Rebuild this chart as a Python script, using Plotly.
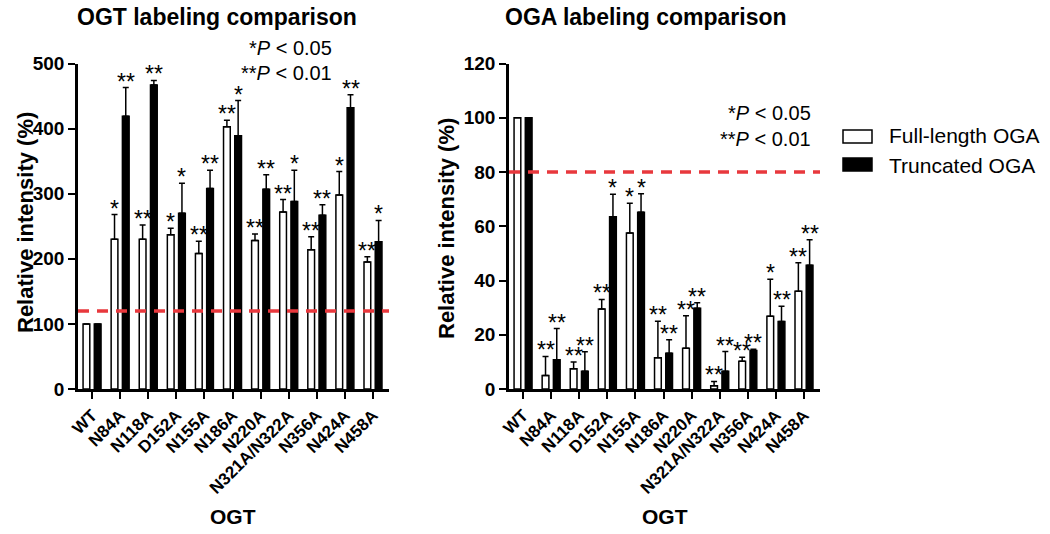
import plotly.graph_objects as go

cats = ["WT", "N84A", "N118A", "D152A", "N155A", "N186A", "N220A", "N321A/N322A", "N356A", "N424A", "N458A"]

# OGT panel: bar value and top of the error bar
ogt_full = [100, 230, 230, 237, 208, 403, 228, 272, 214, 298, 195]
ogt_full_top = [100, 268, 252, 247, 227, 413, 238, 291, 234, 334, 203]
ogt_full_sig = ["", "*", "**", "*", "**", "**", "**", "**", "**", "*", "**"]
ogt_trunc = [100, 419, 467, 270, 308, 389, 307, 288, 267, 432, 226]
ogt_trunc_top = [100, 463, 474, 316, 336, 443, 329, 336, 283, 452, 259]
ogt_trunc_sig = ["", "**", "**", "*", "**", "*", "**", "*", "**", "**", "*"]

# OGA panel
oga_full = [100, 5, 7.5, 29.5, 57.5, 11.5, 15, 1.2, 10.2, 26.8, 36]
oga_full_top = [100, 12, 10, 33, 68.5, 25, 27, 2.8, 11.7, 40.5, 46.5]
oga_full_sig = ["", "**", "**", "**", "*", "**", "**", "**", "**", "*", "**"]
oga_trunc = [100, 10.8, 6.5, 63.5, 65.2, 13.2, 29.8, 6.5, 14.2, 24.9, 45.6]
oga_trunc_top = [100, 22.3, 13.7, 71.8, 72, 18.2, 31.8, 13.8, 14.7, 30.5, 55]
oga_trunc_sig = ["", "**", "**", "*", "*", "**", "**", "**", "**", "**", "**"]

W, H = 1050, 534
FONT = "Arial, Liberation Sans, sans-serif"
RED = "#e8383d"


def px(x):
    return x / W


def py(y):
    return 1 - y / H


fig = go.Figure()
idx = list(range(len(cats)))


def add_panel(xa, ya, full, full_top, full_sig, trunc, trunc_top, trunc_sig):
    for off, vals, tops, sig, fill in [(-0.2, full, full_top, full_sig, "white"),
                                       (0.2, trunc, trunc_top, trunc_sig, "black")]:
        xs = [i + off for i in idx]
        fig.add_trace(go.Bar(
            x=xs, y=vals, width=0.24, xaxis=xa, yaxis=ya, showlegend=False,
            marker=dict(color=fill, line=dict(color="black", width=1.5)),
            error_y=dict(type="data", symmetric=False,
                         array=[t - v for t, v in zip(tops, vals)],
                         arrayminus=[0] * len(vals),
                         color="black", thickness=1.5, width=3),
        ))
        # significance stars sit just above the error bar caps
        for x, t, s in zip(xs, tops, sig):
            if s:
                fig.add_annotation(x=x, y=t, xref=xa, yref=ya, text=s, showarrow=False,
                                   yanchor="bottom", yshift=-8, borderpad=0,
                                   font=dict(family=FONT, size=23, color="black"))


add_panel("x", "y", ogt_full, ogt_full_top, ogt_full_sig, ogt_trunc, ogt_trunc_top, ogt_trunc_sig)
add_panel("x2", "y2", oga_full, oga_full_top, oga_full_sig, oga_trunc, oga_trunc_top, oga_trunc_sig)

xaxis_common = dict(range=[-0.5, 10.57], tickvals=idx, ticktext=cats, tickangle=-45,
                    ticks="outside", ticklen=7, tickwidth=2, tickcolor="black",
                    showline=True, linewidth=2.5, linecolor="black",
                    showgrid=False, zeroline=False, automargin=False,
                    tickfont=dict(family=FONT, size=17, color="black", weight="bold"))
yaxis_common = dict(ticks="outside", ticklen=7, tickwidth=2, tickcolor="black",
                    showline=True, linewidth=2.5, linecolor="black",
                    showgrid=False, zeroline=False, automargin=False,
                    tickfont=dict(family=FONT, size=19, color="black", weight="bold"))

ydom = [py(389), py(63.5)]
fig.update_layout(
    width=W, height=H, margin=dict(l=0, r=0, t=0, b=0),
    plot_bgcolor="white", paper_bgcolor="white", barmode="overlay",
    xaxis=dict(domain=[px(78), px(389)], anchor="y", **xaxis_common),
    yaxis=dict(domain=ydom, anchor="x", range=[0, 500], dtick=100, **yaxis_common),
    xaxis2=dict(domain=[px(509), px(820)], anchor="y2", **xaxis_common),
    yaxis2=dict(domain=ydom, anchor="x2", range=[0, 120], dtick=20, **yaxis_common),
)

# threshold lines
fig.add_shape(type="line", xref="x domain", yref="y", x0=0, x1=1, y0=120, y1=120,
              line=dict(color=RED, width=3.5, dash="11px,8px"))
fig.add_shape(type="line", xref="x2 domain", yref="y2", x0=0, x1=1, y0=80, y1=80,
              line=dict(color=RED, width=3.5, dash="11px,8px"))

# text
def note(x, y, text, size, bold=False, xanchor="center", angle=0):
    fig.add_annotation(xref="paper", yref="paper", x=px(x), y=py(y), text=text,
                       showarrow=False, xanchor=xanchor, yanchor="middle", textangle=angle,
                       font=dict(family=FONT, size=size, color="black",
                                 weight="bold" if bold else "normal"))


note(217, 17, "OGT labeling comparison", 23, bold=True)
note(646, 17, "OGA labeling comparison", 23, bold=True)
note(25, 223, "Relative intensity (%)", 22, bold=True, angle=-90)
note(446, 229, "Relative intensity (%)", 22, bold=True, angle=-90)
note(233, 516, "OGT", 21, bold=True)
note(665, 516, "OGT", 21, bold=True)
note(334, 48, "*<i>P</i> < 0.05", 20, xanchor="right")
note(334, 73, "**<i>P</i> < 0.01", 20, xanchor="right")
note(813, 113, "*<i>P</i> < 0.05", 20, xanchor="right")
note(813, 139, "**<i>P</i> < 0.01", 20, xanchor="right")

# legend
fig.add_shape(type="rect", xref="paper", yref="paper", x0=px(843), x1=px(872), y0=py(143), y1=py(130),
              line=dict(color="black", width=1.5), fillcolor="white")
fig.add_shape(type="rect", xref="paper", yref="paper", x0=px(843), x1=px(872), y0=py(171), y1=py(158),
              line=dict(color="black", width=1.5), fillcolor="black")
note(887, 136, "Full-length OGA", 21, xanchor="left")
note(887, 165, "Truncated OGA", 21, xanchor="left")

fig.write_html("out.html", config={"displayModeBar": False},
               post_script="document.body.style.margin = '0';")
